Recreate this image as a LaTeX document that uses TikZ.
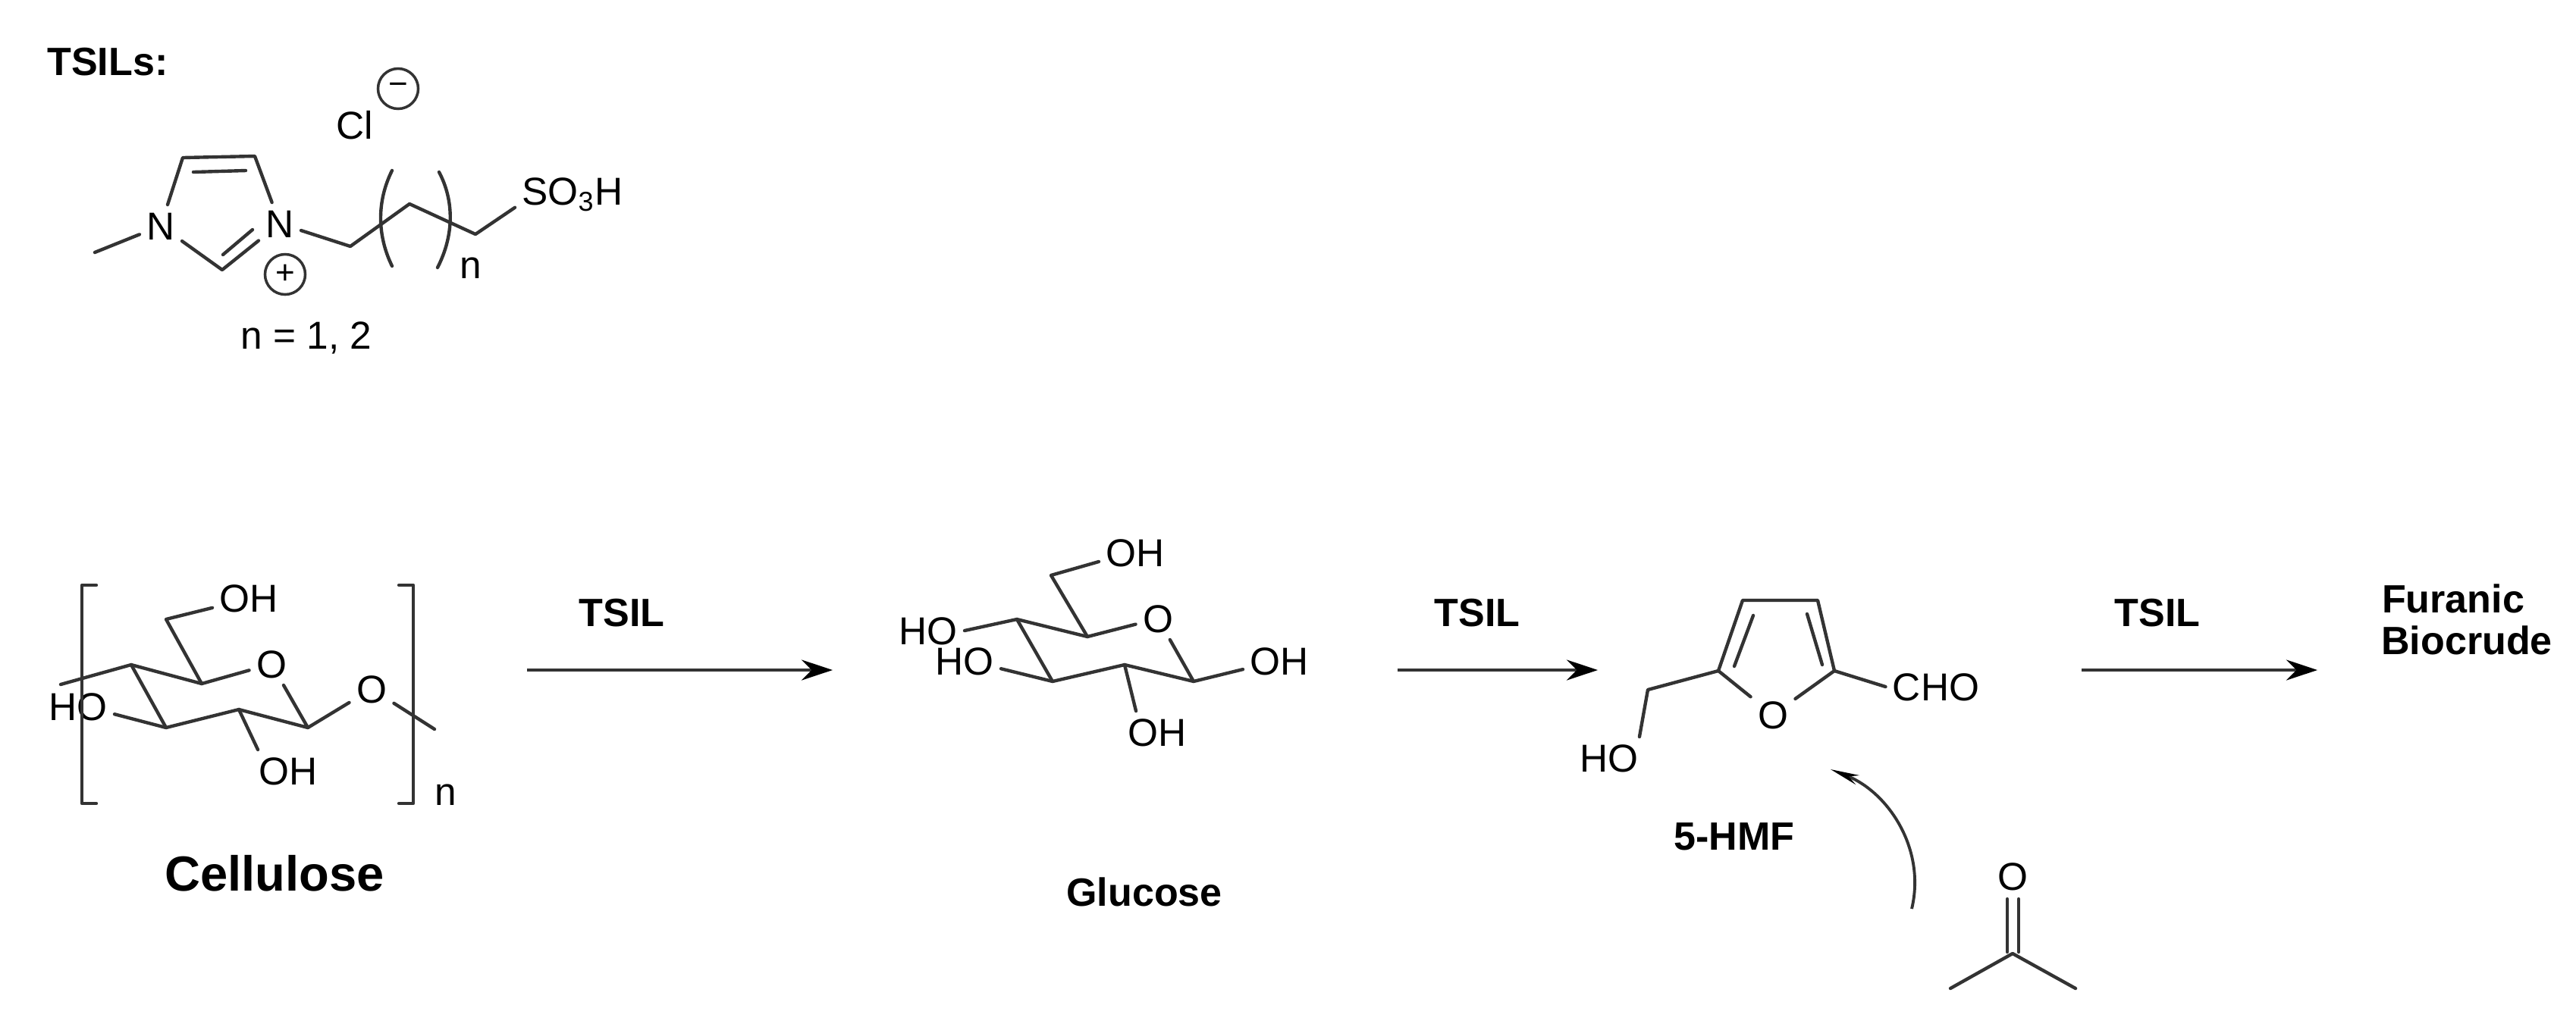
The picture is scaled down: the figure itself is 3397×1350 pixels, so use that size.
\documentclass[tikz,border=0pt]{standalone}
\usepackage{fontspec}
\setmainfont{Liberation Sans}
\usetikzlibrary{arrows.meta}
\tikzset{
  bond/.style={line width=1.25pt,black!80,line join=round,line cap=round},
  atom/.style={font=\fontsize{14.6pt}{17pt}\selectfont,inner sep=2.5pt,text height=10.5pt,text depth=0pt},
  lower/.style={font=\fontsize{14.6pt}{17pt}\selectfont,inner sep=0pt,anchor=base},
  capt/.style={font=\fontsize{14.8pt}{15.6pt}\selectfont\bfseries,inner sep=0pt,text height=10.6pt,text depth=0pt},
  charge/.style={draw=black!80,line width=1pt,circle,inner sep=0pt,minimum size=.53cm,font=\fontsize{12.5pt}{14pt}\selectfont},
  rxn/.style={line width=1.25pt,black!80,-{Stealth[length=.41cm,width=.27cm,black]}}
}
\begin{document}
\begin{tikzpicture}[x=0.01cm,y=-0.01cm]
\useasboundingbox (0,0) rectangle (3397,1350);
% ionic liquid
\node[capt] (tsils) at (142,81) {TSILs:};
\node[atom] (cl) at (468,165) {Cl};
\node[charge] (minus) at (525,117) {−};
\node[atom] (nl) at (212,298) {N};
\node[atom] (nr) at (369,295) {N};
\node[charge] (plus) at (376,362) {+};
\node[atom] (so) at (755,252) {SO\textsubscript{3}H};
\node[lower] (nsub) at (621,367) {n};
\node[lower] (nval) at (404,460) {n = 1, 2};
\coordinate (me) at (125,333);
\coordinate (c2) at (293,356);
\coordinate (c4) at (241,208);
\coordinate (c5) at (336,206);
\coordinate (c4i) at (255,227);
\coordinate (c5i) at (324,225);
\coordinate (c2i) at (294,336);
\coordinate (nri) at (333,303);
\coordinate (ch1) at (462,325);
\coordinate (ch2) at (540,269);
\coordinate (ch3) at (627,309);
\draw[bond] (me) -- (nl);
\draw[bond] (nl) -- (c4) -- (c5) -- (nr);
\draw[bond] (nl) -- (c2) -- (nr);
\draw[bond] (c4i) -- (c5i);
\draw[bond] (c2i) -- (nri);
\draw[bond] (nr) -- (ch1) -- (ch2) -- (ch3) -- (so.196);
% chain brackets
\draw[bond] (517,225) .. controls (497,265) and (497,310) .. (517,351);
\draw[bond] (579,227) .. controls (599,265) and (599,310) .. (577,353);
% cellulose
\node[atom] (coh) at (328,789) {OH};
\node[atom] (cor) at (358,876) {O};
\node[atom] (cho) at (103,932) {HO};
\node[atom] (cob) at (380,1017) {OH};
\node[atom] (cog) at (490,909) {O};
\node[lower] (cn) at (588,1062) {n};
\node[capt,font=\fontsize{18.5pt}{20pt}\selectfont\bfseries,text height=13.2pt] (cell) at (362,1152) {Cellulose};
\coordinate (cend) at (80,903);
\coordinate (ca) at (173,877);
\coordinate (cb) at (266,902);
\coordinate (cc) at (219,960);
\coordinate (cd) at (315,936);
\coordinate (ce) at (406,960);
\coordinate (cm) at (219,817);
\coordinate (cout) at (573,962);
\draw[bond] (cend) -- (ca) -- (cb) -- (cor);
\draw[bond] (ca) -- (cc) -- (cd) -- (ce) -- (cor);
\draw[bond] (cb) -- (cm) -- (coh.195);
\draw[bond] (cho.348) -- (cc);
\draw[bond] (cd) -- (cob.145);
\draw[bond] (ce) -- (cog) -- (cout);
\draw[bond] (127,772) -- (108,772) -- (108,1060) -- (127,1060);
\draw[bond] (526,772) -- (545,772) -- (545,1060) -- (526,1060);
% glucose
\node[atom] (goh) at (1497,729) {OH};
\node[atom] (gor) at (1527,816) {O};
\node[atom] (gha) at (1224,832) {HO};
\node[atom] (ghb) at (1272,872) {HO};
\node[atom] (gor2) at (1687,872) {OH};
\node[atom] (gob) at (1526,966) {OH};
\node[capt] (gluc) at (1509,1177) {Glucose};
\coordinate (ga) at (1341,817);
\coordinate (gb) at (1434,840);
\coordinate (gc) at (1388,899);
\coordinate (gd) at (1483,877);
\coordinate (ge) at (1574,899);
\coordinate (gm) at (1386,759);
\draw[bond] (ga) -- (gb) -- (gor);
\draw[bond] (ga) -- (gc) -- (gd) -- (ge) -- (gor);
\draw[bond] (gb) -- (gm) -- (goh.194);
\draw[bond] (gha.east) -- (ga);
\draw[bond] (ghb.348) -- (gc);
\draw[bond] (gd) -- (gob.135);
\draw[bond] (ge) -- (gor2.193);
% 5-HMF
\node[atom] (fo) at (2338,943) {O};
\node[atom] (fho) at (2122,1000) {HO};
\node[atom] (fcho) at (2553,906) {CHO};
\node[capt] (hmf) at (2287,1103) {5-HMF};
\coordinate (fl) at (2266,885);
\coordinate (fr) at (2419,885);
\coordinate (ftl) at (2298,792);
\coordinate (ftr) at (2397,792);
\coordinate (fia) at (2312,812);
\coordinate (fib) at (2287,879);
\coordinate (fic) at (2383,810);
\coordinate (fid) at (2403,877);
\coordinate (fm) at (2173,910);
\draw[bond] (fo) -- (fl) -- (ftl) -- (ftr) -- (fr) -- (fo);
\draw[bond] (fia) -- (fib);
\draw[bond] (fic) -- (fid);
\draw[bond] (fl) -- (fm) -- (fho.35);
\draw[bond] (fr) -- (fcho.west);
% acetone
\node[atom] (ao) at (2654,1156) {O};
\coordinate (ac) at (2654,1258);
\coordinate (al) at (2572,1304);
\coordinate (ar) at (2737,1304);
\coordinate (adla) at (2647,1186);
\coordinate (adlb) at (2647,1256);
\coordinate (adra) at (2662,1186);
\coordinate (adrb) at (2662,1256);
\draw[bond] (adla) -- (adlb);
\draw[bond] (adra) -- (adrb);
\draw[bond] (al) -- (ac) -- (ar);
% reaction arrows
\node[capt] (tsa) at (820,808) {TSIL};
\node[capt] (tsb) at (1948,808) {TSIL};
\node[capt] (tsc) at (2845,808) {TSIL};
\node[capt] (bioa) at (3235,790) {Furanic};
\node[capt] (biob) at (3253,845) {Biocrude};
\coordinate (a1s) at (695,884);
\coordinate (a1e) at (1098,884);
\coordinate (a2s) at (1843,884);
\coordinate (a2e) at (2107,884);
\coordinate (a3s) at (2745,884);
\coordinate (a3e) at (3056,884);
\coordinate (bs) at (2521,1199);
\coordinate (be) at (2414,1015);
\draw[rxn] (a1s) -- (a1e);
\draw[rxn] (a2s) -- (a2e);
\draw[rxn] (a3s) -- (a3e);
\draw[line width=1.1pt,black!80,-{Stealth[length=.38cm,width=.13cm,black]}] (bs) .. controls (2540,1120) and (2490,1045) .. (be);
\end{tikzpicture}
\end{document}
